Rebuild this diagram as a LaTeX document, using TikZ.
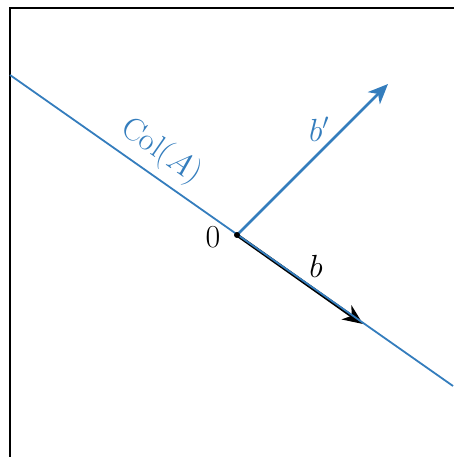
\RequirePackage{fix-cm}
\documentclass[tikz,border=0pt]{standalone}
\usetikzlibrary{arrows.meta}
\definecolor{cblue}{RGB}{52,125,189}
\begin{document}
\begin{tikzpicture}[x=1pt,y=-1pt,
  frame/.style={draw=black,line width=1.1pt},
  colline/.style={draw=cblue,line width=1.8pt},
  vecb/.style={draw=black,line width=3.2pt,-{Stealth[length=20pt,width=17pt,inset=6pt]}},
  vecbp/.style={draw=cblue,line width=2.8pt,-{Stealth[length=20pt,width=17pt,inset=6pt]}},
  lbl/.style={font=\fontsize{32}{38}\selectfont,inner sep=0pt}]
\useasboundingbox (0,0) rectangle (453,457);
\coordinate (F1) at (10,460);
\coordinate (F2) at (10,8);
\coordinate (F3) at (456,8);
\draw[frame] (F1) -- (F2) -- (F3);
\coordinate (O) at (237,235);
\coordinate (L1) at (10,75);
\coordinate (L2) at (453,386);
\coordinate (B) at (363,324);
\coordinate (BP) at (388,84);
\draw[vecb] (O) -- (B);
\draw[colline] (L1) -- (L2);
\draw[vecbp] (O) -- (BP);
\fill (O) circle (3pt);
\node[lbl] (zero) at (213,237) {$0$};
\node[lbl] (blab) at (316,266) {$b$};
\node[lbl,text=cblue] (bplab) at (319,129) {$b'$};
\node[lbl,text=cblue,rotate=-35] (col) at (161,152) {Col($A$)};
\end{tikzpicture}
\end{document}
